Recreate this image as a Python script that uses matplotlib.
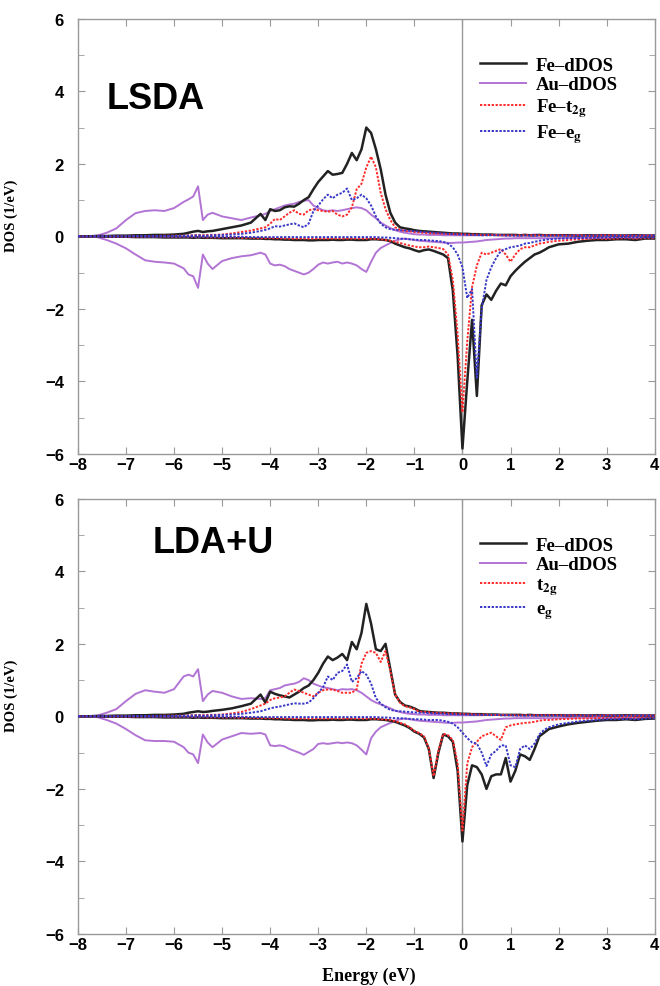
import numpy as np
import matplotlib
matplotlib.use('Agg')
import matplotlib.pyplot as plt

# energy grid (eV)
energy = [
    -8.0, -7.8, -7.6, -7.4, -7.2, -7.0, -6.8, -6.6, -6.4, -6.2, -6.0,
    -5.8, -5.7, -5.6, -5.5, -5.4, -5.3, -5.2, -5.0,
    -4.8, -4.6, -4.4, -4.2, -4.1, -4.0,
    -3.9, -3.8, -3.7, -3.6, -3.5, -3.4, -3.3, -3.2, -3.1, -3.0,
    -2.9, -2.8, -2.7, -2.6, -2.5, -2.4, -2.3, -2.2, -2.1, -2.0,
    -1.9, -1.8, -1.7, -1.6, -1.5, -1.4, -1.3, -1.2, -1.1, -1.0,
    -0.9, -0.8, -0.7, -0.6, -0.5, -0.4, -0.3, -0.2, -0.1, 0.0,
    0.1, 0.2, 0.3, 0.4, 0.5, 0.6, 0.7, 0.8, 0.9, 1.0,
    1.1, 1.2, 1.3, 1.4, 1.5, 1.6, 1.7, 1.8,
    2.0, 2.2, 2.4, 2.6, 2.8, 3.0, 3.2, 3.4, 3.6, 3.8, 4.0,
]

# ---- LSDA ----
lsda_fe_up = [
    0.0, 0.0, 0.01, 0.01, 0.02, 0.02, 0.03, 0.03, 0.04, 0.04, 0.05,
    0.07, 0.1, 0.13, 0.15, 0.12, 0.14, 0.15, 0.2,
    0.25, 0.3, 0.38, 0.62, 0.45, 0.75,
    0.7, 0.72, 0.8, 0.83, 0.82, 0.9, 1.0, 1.08, 1.3, 1.5,
    1.65, 1.8, 1.7, 1.72, 1.75, 2.0, 2.3, 2.1, 2.4, 3.0,
    2.85, 2.4, 1.85, 1.15, 0.65, 0.38, 0.25, 0.22, 0.2, 0.17,
    0.15, 0.14, 0.13, 0.12, 0.11, 0.1, 0.09, 0.08, 0.08, 0.07,
    0.07, 0.06, 0.06, 0.05, 0.05, 0.05, 0.04, 0.04, 0.04, 0.04,
    0.04, 0.03, 0.04, 0.03, 0.03, 0.04, 0.03, 0.03,
    0.03, 0.03, 0.02, 0.03, 0.02, 0.03, 0.02, 0.02, 0.03, 0.02, 0.02,
]
lsda_fe_dn = [
    0.0, 0.0, 0.0, -0.01, -0.01, -0.01, -0.02, -0.02, -0.02, -0.03, -0.03,
    -0.03, -0.03, -0.04, -0.03, -0.04, -0.04, -0.04, -0.05,
    -0.05, -0.05, -0.06, -0.06, -0.07, -0.07,
    -0.08, -0.08, -0.09, -0.09, -0.1, -0.1, -0.1, -0.11, -0.11, -0.1,
    -0.1, -0.1, -0.09, -0.1, -0.1, -0.09, -0.09, -0.1, -0.1, -0.1,
    -0.08, -0.08, -0.09, -0.1, -0.13, -0.2, -0.25, -0.3, -0.33, -0.38,
    -0.42, -0.38, -0.36, -0.4, -0.45, -0.5, -0.6, -1.5, -3.3, -5.85,
    -4.0, -2.3, -4.4, -1.9, -1.6, -1.75, -1.5, -1.3, -1.35, -1.1,
    -0.95, -0.82, -0.7, -0.6, -0.5, -0.45, -0.38, -0.3,
    -0.22, -0.2, -0.15, -0.12, -0.1, -0.1, -0.08, -0.08, -0.1, -0.06, -0.06,
]
lsda_au_up = [
    0.0, 0.0, 0.02, 0.1, 0.22, 0.45, 0.64, 0.7, 0.72, 0.7, 0.78,
    0.95, 1.02, 1.1, 1.38, 0.45, 0.6, 0.65, 0.55,
    0.5, 0.45, 0.52, 0.58, 0.62, 0.7,
    0.75, 0.8, 0.85, 0.88, 0.9, 0.95, 0.98, 1.0, 0.85, 0.78,
    0.72, 0.7, 0.72, 0.7, 0.72, 0.75, 0.78, 0.8, 0.78, 0.72,
    0.6, 0.5, 0.38, 0.3, 0.23, 0.17, 0.13, 0.1, 0.08, 0.06,
    0.05, 0.05, 0.04, 0.04, 0.04, 0.03, 0.03, 0.03, 0.03, 0.03,
    0.03, 0.03, 0.03, 0.03, 0.04, 0.04, 0.04, 0.04, 0.04, 0.04,
    0.04, 0.04, 0.04, 0.04, 0.05, 0.04, 0.04, 0.04,
    0.04, 0.04, 0.04, 0.03, 0.04, 0.04, 0.03, 0.03, 0.04, 0.03, 0.03,
]
lsda_au_dn = [
    0.0, 0.0, -0.02, -0.1, -0.2, -0.33, -0.5, -0.66, -0.7, -0.72, -0.75,
    -0.88, -1.05, -1.1, -1.42, -0.5, -0.75, -0.9, -0.68,
    -0.6, -0.55, -0.52, -0.45, -0.5, -0.75,
    -0.8, -0.78, -0.82, -0.9, -0.95, -1.0, -1.05, -1.0, -0.9, -0.78,
    -0.72, -0.75, -0.72, -0.7, -0.75, -0.72, -0.75, -0.8, -0.9, -0.98,
    -0.7, -0.45, -0.32, -0.25, -0.18, -0.12, -0.08, -0.06, -0.08, -0.1,
    -0.12, -0.13, -0.14, -0.15, -0.16, -0.17, -0.18, -0.18, -0.17, -0.17,
    -0.16, -0.15, -0.14, -0.12, -0.1, -0.09, -0.08, -0.07, -0.06, -0.06,
    -0.05, -0.05, -0.05, -0.05, -0.05, -0.05, -0.05, -0.05,
    -0.05, -0.04, -0.04, -0.04, -0.04, -0.04, -0.04, -0.04, -0.04, -0.04, -0.04,
]
lsda_t2g_up = [
    0.0, 0.0, 0.0, 0.0, 0.0, 0.01, 0.01, 0.01, 0.01, 0.02, 0.02,
    0.02, 0.03, 0.03, 0.04, 0.03, 0.04, 0.04, 0.05,
    0.08, 0.12, 0.16, 0.22, 0.25, 0.35,
    0.48, 0.45, 0.55, 0.65, 0.72, 0.62, 0.6, 0.72, 0.75, 0.72,
    0.7, 0.68, 0.7, 0.6, 0.55, 0.6, 0.8, 1.3, 1.45, 1.9,
    2.2, 1.9, 1.2, 0.75, 0.45, 0.25, 0.18, 0.15, 0.14, 0.12,
    0.11, 0.1, 0.09, 0.08, 0.08, 0.07, 0.07, 0.06, 0.06, 0.06,
    0.05, 0.05, 0.05, 0.04, 0.04, 0.04, 0.04, 0.03, 0.03, 0.03,
    0.03, 0.03, 0.03, 0.03, 0.03, 0.03, 0.03, 0.03,
    0.03, 0.02, 0.03, 0.02, 0.02, 0.03, 0.02, 0.02, 0.02, 0.02, 0.02,
]
lsda_t2g_dn = [
    0.0, 0.0, 0.0, 0.0, -0.01, -0.01, -0.01, -0.01, -0.01, -0.02, -0.02,
    -0.02, -0.02, -0.02, -0.02, -0.02, -0.03, -0.03, -0.03,
    -0.03, -0.04, -0.04, -0.05, -0.05, -0.05,
    -0.05, -0.05, -0.06, -0.06, -0.06, -0.06, -0.06, -0.06, -0.06, -0.06,
    -0.06, -0.06, -0.06, -0.06, -0.06, -0.06, -0.06, -0.06, -0.06, -0.06,
    -0.06, -0.07, -0.08, -0.1, -0.12, -0.15, -0.18, -0.22, -0.25, -0.28,
    -0.3, -0.3, -0.28, -0.3, -0.32, -0.35, -0.5, -1.2, -2.7, -4.85,
    -2.9, -1.4, -0.8, -0.45, -0.5, -0.45, -0.4, -0.35, -0.5, -0.7,
    -0.5, -0.35, -0.3, -0.3, -0.25, -0.2, -0.18, -0.15,
    -0.12, -0.1, -0.08, -0.07, -0.06, -0.07, -0.06, -0.05, -0.06, -0.05, -0.05,
]
lsda_eg_up = [
    0.0, 0.0, 0.0, 0.0, 0.0, 0.0, 0.01, 0.01, 0.01, 0.01, 0.01,
    0.02, 0.02, 0.02, 0.03, 0.02, 0.02, 0.03, 0.04,
    0.05, 0.07, 0.1, 0.15, 0.18, 0.22,
    0.28, 0.27, 0.3, 0.33, 0.36, 0.3, 0.25, 0.35, 0.7, 0.85,
    1.02, 1.15, 1.05, 1.15, 1.2, 1.32, 1.0, 1.05, 1.15, 1.05,
    0.85, 0.55, 0.35, 0.25, 0.2, 0.18, 0.17, 0.16, 0.15, 0.14,
    0.13, 0.12, 0.11, 0.1, 0.09, 0.08, 0.07, 0.06, 0.05, 0.05,
    0.04, 0.04, 0.04, 0.03, 0.03, 0.03, 0.03, 0.03, 0.02, 0.02,
    0.02, 0.02, 0.02, 0.02, 0.02, 0.02, 0.02, 0.02,
    0.02, 0.02, 0.02, 0.02, 0.02, 0.02, 0.02, 0.02, 0.02, 0.02, 0.02,
]
lsda_eg_dn = [
    0.0, 0.0, 0.0, 0.0, 0.0, 0.0, 0.0, -0.01, -0.01, -0.01, -0.01,
    -0.01, -0.01, -0.01, -0.01, -0.01, -0.01, -0.01, -0.01,
    -0.01, -0.01, -0.02, -0.02, -0.02, -0.02,
    -0.02, -0.02, -0.02, -0.02, -0.02, -0.02, -0.02, -0.02, -0.02, -0.02,
    -0.02, -0.02, -0.02, -0.02, -0.02, -0.02, -0.02, -0.02, -0.02, -0.02,
    -0.02, -0.02, -0.03, -0.03, -0.04, -0.05, -0.06, -0.07, -0.08, -0.09,
    -0.1, -0.1, -0.11, -0.12, -0.13, -0.15, -0.2, -0.3, -0.5, -0.85,
    -1.7, -1.45, -3.9, -2.0, -1.2, -0.85, -0.6, -0.4, -0.35, -0.3,
    -0.28, -0.25, -0.2, -0.18, -0.15, -0.12, -0.1, -0.08,
    -0.06, -0.05, -0.05, -0.04, -0.04, -0.03, -0.03, -0.03, -0.03, -0.03, -0.03,
]

# ---- LDA+U ----
ldau_fe_up = [
    0.0, 0.0, 0.01, 0.01, 0.02, 0.02, 0.03, 0.03, 0.04, 0.04, 0.05,
    0.07, 0.1, 0.12, 0.14, 0.12, 0.13, 0.15, 0.18,
    0.22, 0.28, 0.35, 0.6, 0.38, 0.68,
    0.62, 0.58, 0.55, 0.52, 0.6, 0.68, 0.78, 0.85, 1.0, 1.2,
    1.45, 1.65, 1.55, 1.62, 1.72, 1.55, 2.05, 1.85, 2.3, 3.1,
    2.55, 1.85, 1.8, 2.0, 1.3, 0.6, 0.4, 0.3, 0.27, 0.22,
    0.15, 0.13, 0.12, 0.11, 0.1, 0.1, 0.09, 0.08, 0.08, 0.07,
    0.07, 0.06, 0.06, 0.06, 0.05, 0.05, 0.05, 0.04, 0.04, 0.04,
    0.04, 0.04, 0.03, 0.04, 0.03, 0.03, 0.03, 0.03,
    0.03, 0.02, 0.03, 0.02, 0.03, 0.02, 0.02, 0.03, 0.02, 0.02, 0.02,
]
ldau_fe_dn = [
    0.0, 0.0, 0.0, -0.01, -0.01, -0.01, -0.02, -0.02, -0.02, -0.03, -0.03,
    -0.03, -0.03, -0.04, -0.03, -0.04, -0.04, -0.04, -0.05,
    -0.05, -0.05, -0.06, -0.06, -0.07, -0.07,
    -0.08, -0.08, -0.09, -0.09, -0.1, -0.1, -0.1, -0.11, -0.11, -0.1,
    -0.1, -0.1, -0.09, -0.1, -0.1, -0.09, -0.09, -0.1, -0.1, -0.1,
    -0.08, -0.08, -0.09, -0.1, -0.12, -0.15, -0.2, -0.25, -0.32, -0.42,
    -0.48, -0.58, -0.9, -1.7, -1.0, -0.5, -0.55, -0.7, -1.5, -3.45,
    -1.9, -1.35, -1.4, -1.6, -2.0, -1.65, -1.6, -1.6, -1.15, -1.8,
    -1.5, -1.05, -1.1, -1.2, -0.9, -0.55, -0.45, -0.35,
    -0.28, -0.22, -0.18, -0.15, -0.12, -0.1, -0.1, -0.08, -0.1, -0.07, -0.06,
]
ldau_au_up = [
    0.0, 0.0, 0.02, 0.1, 0.2, 0.42, 0.62, 0.72, 0.68, 0.65, 0.75,
    1.1, 1.15, 1.1, 1.3, 0.42, 0.6, 0.7, 0.65,
    0.55, 0.48, 0.5, 0.48, 0.5, 0.72,
    0.75, 0.78, 0.85, 0.88, 0.9, 0.95, 1.05, 1.0, 0.9, 0.85,
    0.8, 0.78, 0.75, 0.72, 0.75, 0.74, 0.75, 0.72, 0.65, 0.55,
    0.45, 0.38, 0.33, 0.28, 0.22, 0.16, 0.12, 0.09, 0.07, 0.06,
    0.05, 0.05, 0.04, 0.04, 0.04, 0.03, 0.03, 0.03, 0.03, 0.03,
    0.03, 0.03, 0.03, 0.03, 0.04, 0.04, 0.04, 0.04, 0.04, 0.04,
    0.04, 0.04, 0.04, 0.04, 0.04, 0.04, 0.04, 0.04,
    0.04, 0.04, 0.04, 0.03, 0.04, 0.04, 0.03, 0.03, 0.04, 0.03, 0.03,
]
ldau_au_dn = [
    0.0, 0.0, -0.02, -0.1, -0.2, -0.35, -0.52, -0.66, -0.68, -0.68, -0.7,
    -0.85, -1.0, -1.05, -1.29, -0.5, -0.72, -0.85, -0.64,
    -0.55, -0.46, -0.48, -0.46, -0.5, -0.8,
    -0.82, -0.8, -0.83, -0.9, -0.95, -1.0, -1.06, -0.98, -0.9, -0.76,
    -0.74, -0.76, -0.74, -0.72, -0.74, -0.72, -0.74, -0.8, -0.92, -1.05,
    -0.6, -0.42, -0.3, -0.24, -0.18, -0.12, -0.08, -0.06, -0.08, -0.1,
    -0.12, -0.13, -0.14, -0.15, -0.16, -0.17, -0.18, -0.18, -0.17, -0.17,
    -0.16, -0.15, -0.14, -0.12, -0.1, -0.09, -0.08, -0.07, -0.06, -0.06,
    -0.05, -0.05, -0.05, -0.05, -0.05, -0.05, -0.05, -0.05,
    -0.05, -0.04, -0.04, -0.04, -0.04, -0.04, -0.04, -0.04, -0.04, -0.04, -0.04,
]
ldau_t2g_up = [
    0.0, 0.0, 0.0, 0.0, 0.0, 0.01, 0.01, 0.01, 0.01, 0.02, 0.02,
    0.02, 0.03, 0.03, 0.04, 0.03, 0.04, 0.04, 0.05,
    0.08, 0.12, 0.2, 0.3, 0.35, 0.45,
    0.5, 0.52, 0.55, 0.65, 0.74, 0.7, 0.65, 0.6, 0.55, 0.65,
    0.72, 0.74, 0.74, 0.7, 0.65, 0.65, 0.65, 0.75, 1.45, 1.75,
    1.8, 1.75, 1.5, 1.8, 1.25, 0.6, 0.38, 0.28, 0.25, 0.2,
    0.13, 0.12, 0.11, 0.1, 0.1, 0.09, 0.08, 0.08, 0.07, 0.07,
    0.06, 0.06, 0.05, 0.05, 0.05, 0.04, 0.04, 0.04, 0.04, 0.03,
    0.03, 0.03, 0.03, 0.03, 0.03, 0.03, 0.03, 0.03,
    0.03, 0.02, 0.03, 0.02, 0.02, 0.03, 0.02, 0.02, 0.02, 0.02, 0.02,
]
ldau_t2g_dn = [
    0.0, 0.0, 0.0, 0.0, -0.01, -0.01, -0.01, -0.01, -0.01, -0.02, -0.02,
    -0.02, -0.02, -0.02, -0.02, -0.02, -0.03, -0.03, -0.03,
    -0.03, -0.04, -0.04, -0.05, -0.05, -0.05,
    -0.05, -0.05, -0.06, -0.06, -0.06, -0.06, -0.06, -0.06, -0.06, -0.06,
    -0.06, -0.06, -0.06, -0.06, -0.06, -0.06, -0.06, -0.06, -0.06, -0.06,
    -0.06, -0.07, -0.08, -0.09, -0.1, -0.13, -0.18, -0.22, -0.3, -0.4,
    -0.46, -0.55, -0.88, -1.65, -0.95, -0.48, -0.52, -0.65, -1.3, -3.15,
    -1.3, -0.85, -0.7, -0.55, -0.5, -0.45, -0.55, -0.65, -0.3, -0.25,
    -0.22, -0.2, -0.18, -0.17, -0.15, -0.12, -0.1, -0.1,
    -0.08, -0.07, -0.06, -0.06, -0.05, -0.05, -0.05, -0.05, -0.05, -0.04, -0.04,
]
ldau_eg_up = [
    0.0, 0.0, 0.0, 0.0, 0.0, 0.0, 0.01, 0.01, 0.01, 0.01, 0.01,
    0.02, 0.02, 0.02, 0.03, 0.02, 0.02, 0.03, 0.04,
    0.05, 0.07, 0.1, 0.14, 0.18, 0.22,
    0.25, 0.27, 0.3, 0.33, 0.36, 0.35, 0.35, 0.38, 0.5, 0.65,
    0.8, 1.1, 1.0, 1.2, 1.25, 1.43, 0.95, 1.05, 1.25, 1.15,
    0.9, 0.5, 0.35, 0.25, 0.18, 0.15, 0.14, 0.13, 0.12, 0.11,
    0.1, 0.1, 0.09, 0.08, 0.08, 0.07, 0.06, 0.06, 0.05, 0.05,
    0.05, 0.04, 0.05, 0.04, 0.04, 0.03, 0.04, 0.03, 0.03, 0.03,
    0.02, 0.02, 0.02, 0.02, 0.02, 0.02, 0.02, 0.02,
    0.02, 0.02, 0.02, 0.02, 0.02, 0.02, 0.02, 0.02, 0.02, 0.02, 0.02,
]
ldau_eg_dn = [
    0.0, 0.0, 0.0, 0.0, 0.0, 0.0, 0.0, -0.01, -0.01, -0.01, -0.01,
    -0.01, -0.01, -0.01, -0.01, -0.01, -0.01, -0.01, -0.01,
    -0.01, -0.01, -0.02, -0.02, -0.02, -0.02,
    -0.02, -0.02, -0.02, -0.02, -0.02, -0.02, -0.02, -0.02, -0.02, -0.02,
    -0.02, -0.02, -0.02, -0.02, -0.02, -0.02, -0.02, -0.02, -0.02, -0.02,
    -0.02, -0.02, -0.03, -0.03, -0.04, -0.05, -0.05, -0.06, -0.07, -0.08,
    -0.08, -0.09, -0.1, -0.1, -0.1, -0.12, -0.15, -0.2, -0.3, -0.45,
    -0.6, -0.72, -0.75, -1.0, -1.37, -1.05, -0.95, -0.8, -0.8, -1.35,
    -1.4, -0.9, -0.8, -0.9, -0.75, -0.5, -0.37, -0.3,
    -0.22, -0.18, -0.14, -0.12, -0.1, -0.08, -0.08, -0.07, -0.08, -0.06, -0.05,
]

lsda_labels = ['Fe\u2013dDOS', 'Au\u2013dDOS', 'Fe\u2013t$_{\\mathbf{2g}}$', 'Fe\u2013e$_{\\mathbf{g}}$']
ldau_labels = ['Fe\u2013dDOS', 'Au\u2013dDOS', 't$_{\\mathbf{2g}}$', 'e$_{\\mathbf{g}}$']

plt.rcParams['mathtext.fontset'] = 'stix'

C_FE = '#222222'
C_AU = '#b274d4'
C_T2G = '#ff2b2b'
C_EG = '#3838c8'
DOT = (0, (1.2, 0.8))


def draw_panel(ax, fe, au, t2g, eg, title, labels, show_xlabel):
    ''' fe, au, t2g, eg are (up, down) pairs '''
    x = np.array(energy)
    ax.axvline(0, color='#999999', lw=1.0, zorder=1)
    h_au = ax.plot(x, au[0], color=C_AU, lw=1.4, zorder=2)[0]
    ax.plot(x, au[1], color=C_AU, lw=1.4, zorder=2)
    h_fe = ax.plot(x, fe[0], color=C_FE, lw=1.8, zorder=3)[0]
    ax.plot(x, fe[1], color=C_FE, lw=1.8, zorder=3)
    h_t2g = ax.plot(x, t2g[0], color=C_T2G, lw=1.4, ls=DOT, zorder=4)[0]
    ax.plot(x, t2g[1], color=C_T2G, lw=1.4, ls=DOT, zorder=4)
    h_eg = ax.plot(x, eg[0], color=C_EG, lw=1.4, ls=DOT, zorder=5)[0]
    ax.plot(x, eg[1], color=C_EG, lw=1.4, ls=DOT, zorder=5)

    ax.set_xlim(-8, 4)
    ax.set_ylim(-6, 6)
    ax.set_xticks(range(-8, 5))
    ax.set_yticks(range(-6, 7, 2))
    ax.set_yticks(range(-5, 6, 2), minor=True)
    ax.tick_params(which='both', direction='in', top=True, right=True,
                   color='#999999')
    ax.tick_params(which='major', length=5)
    ax.tick_params(which='minor', length=4)
    ax.tick_params(axis='y', pad=10)
    ax.tick_params(axis='x', pad=2)
    for lab in ax.get_xticklabels() + ax.get_yticklabels():
        lab.set_fontfamily('Liberation Sans')
        lab.set_fontweight('bold')
        lab.set_fontsize(12)
    for sp in ax.spines.values():
        sp.set_color('#999999')
        sp.set_linewidth(1.0)

    ax.set_ylabel('DOS (1/eV)', family='Liberation Serif', fontsize=10.5,
                  fontweight='bold')
    ax.yaxis.set_label_coords(-0.104, 0.55)
    if show_xlabel:
        ax.set_xlabel('Energy (eV)', family='Liberation Serif', fontsize=13,
                      fontweight='bold')
        ax.xaxis.set_label_coords(0.505, -0.075)

    ax.text(title[1], title[2], title[0], family='Liberation Sans',
            fontweight='bold', fontsize=26, ha='left', va='center')

    ax.legend([h_fe, h_au, h_t2g, h_eg], labels, loc='upper left',
              bbox_to_anchor=(0.68, 0.935), frameon=False,
              prop={'family': 'Liberation Serif', 'size': 13.5, 'weight': 'bold'},
              handlelength=2.5, handletextpad=0.5, labelspacing=0.15,
              borderpad=0.0)


fig = plt.figure(figsize=(6.6, 9.87), dpi=100)
ax1 = fig.add_axes([0.118, 0.539, 0.874, 0.441])
ax2 = fig.add_axes([0.118, 0.0527, 0.874, 0.441])

draw_panel(ax1, (lsda_fe_up, lsda_fe_dn), (lsda_au_up, lsda_au_dn),
           (lsda_t2g_up, lsda_t2g_dn), (lsda_eg_up, lsda_eg_dn),
           ('LSDA', -7.4, 3.8), lsda_labels, False)
draw_panel(ax2, (ldau_fe_up, ldau_fe_dn), (ldau_au_up, ldau_au_dn),
           (ldau_t2g_up, ldau_t2g_dn), (ldau_eg_up, ldau_eg_dn),
           ('LDA+U', -6.45, 4.8), ldau_labels, True)

plt.savefig('out.png', dpi=100)
